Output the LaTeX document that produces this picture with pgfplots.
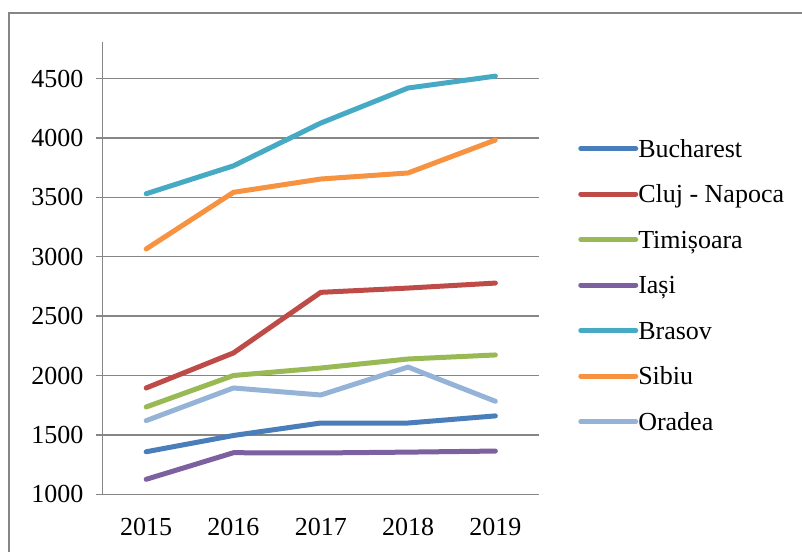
\documentclass[border=0pt]{standalone}
\usepackage{pgfplots}
\pgfplotsset{compat=1.18}
\usepackage{fontspec}
\setmainfont{Liberation Serif}
\definecolor{cBuc}{HTML}{4A7EBB}
\definecolor{cClu}{HTML}{BE4B48}
\definecolor{cTim}{HTML}{98B954}
\definecolor{cIas}{HTML}{7D60A0}
\definecolor{cBra}{HTML}{46AAC5}
\definecolor{cSib}{HTML}{F69240}
\definecolor{cOra}{HTML}{95B3D7}
\definecolor{gridc}{HTML}{868686}
\begin{document}
\fontsize{13}{15}\selectfont
\begin{tikzpicture}[x=1pt,y=1pt]
\path[use as bounding box] (0,0) rectangle (401,275.5);
\draw[gridc, line width=1pt] (4.5,-5) -- (4.5,269.2) -- (410,269.2);
\begin{axis}[
  at={(51.25pt,28.35pt)}, anchor=south west,
  scale only axis, width=218.25pt, height=226.3pt,
  xmin=-0.5, xmax=4.5, ymin=1000, ymax=4810,
  axis x line=bottom, axis y line=left,
  axis line style={gridc, line width=0.75pt, -},
  xtick={0,1,2,3,4}, xticklabels={2015,2016,2017,2018,2019},
  extra x ticks={-0.5,0.5,1.5,2.5,3.5,4.5}, extra x tick labels={},
  extra x tick style={major tick length=4pt, tick style={gridc, line width=0.75pt}},
  ytick={1000,1500,2000,2500,3000,3500,4000,4500},
  major x tick style={draw=none},
  ytick style={gridc, line width=0.75pt},
  tick align=outside, major tick length=3.5pt,
  ymajorgrids, major grid style={gridc, line width=0.75pt},
  /pgf/number format/assume math mode=true,
  /pgf/number format/set thousands separator={},
  tick label style={font=\fontsize{13}{15}\selectfont, black},
  yticklabel style={xshift=-1.5pt},
  xticklabel style={yshift=-4pt},
  legend style={draw=none, fill=none, at={(1.089,0.79)}, anchor=north west,
    font=\fontsize{13}{15}\selectfont, row sep=9.75pt, inner sep=0pt,
    nodes={inner sep=0pt, text height=10pt, text depth=3pt}},
  legend cell align=left,
  legend image code/.code={\draw[#1, line width=2.5pt] (0pt,0.8pt) -- (27.5pt,0.8pt);},
  every axis plot/.append style={line width=2.5pt, line cap=round, line join=round},
]
\addplot[cBuc] coordinates {(0,1358) (1,1495) (2,1600) (3,1600) (4,1660)};
\addlegendentry{Bucharest}
\addplot[cClu] coordinates {(0,1895) (1,2190) (2,2700) (3,2736) (4,2778)};
\addlegendentry{Cluj - Napoca}
\addplot[cTim] coordinates {(0,1735) (1,2000) (2,2063) (3,2139) (4,2173)};
\addlegendentry{Timișoara}
\addplot[cIas] coordinates {(0,1126) (1,1350) (2,1348) (3,1355) (4,1364)};
\addlegendentry{Iași}
\addplot[cBra] coordinates {(0,3530) (1,3765) (2,4125) (3,4420) (4,4520)};
\addlegendentry{Brasov}
\addplot[cSib] coordinates {(0,3065) (1,3542) (2,3654) (3,3705) (4,3982)};
\addlegendentry{Sibiu}
\addplot[cOra] coordinates {(0,1620) (1,1895) (2,1836) (3,2071) (4,1783)};
\addlegendentry{Oradea}
\end{axis}
\end{tikzpicture}
\end{document}
